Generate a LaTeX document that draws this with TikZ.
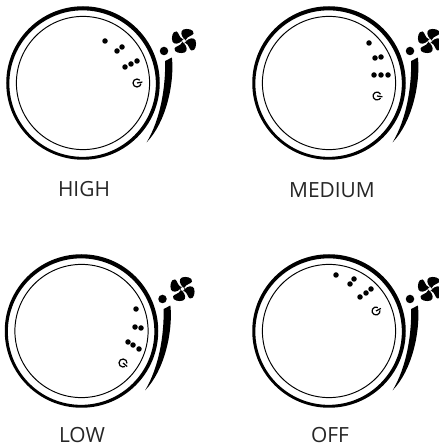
\documentclass[tikz,border=0pt]{standalone}
\usepackage{fontspec}
\setmainfont{Open Sans}
\tikzset{
	speed/.style={circle, fill=black, inner sep=0pt, minimum size=0.11cm},
	knob/.style={circle, fill=black, inner sep=0pt, minimum size=0.17cm},
	caption/.style={anchor=base, inner sep=0pt, font=\fontsize{11.9}{13}\selectfont, text=black!85},
	pics/powermark/.style={code={
		\draw[line width=0.7pt, rotate=#1] (35:0.08) arc (35:340:0.08);
		\draw[line width=0.7pt, rotate=#1] (0,0) -- (0.11,0);
	}},
	pics/fanblade/.style={code={
		\fill[rotate=#1] (0.006,0.04) .. controls (-0.06,0.1) and (-0.08,0.2) .. (-0.01,0.23) .. controls (0.06,0.26) and (0.21,0.23) .. (0.19,0.15) .. controls (0.17,0.1) and (0.07,0.1) .. (0.04,0.03) -- cycle;
	}},
	pics/dial/.style={code={
		\fill[even odd rule] (0,0) circle[radius=1.535] (-0.008,-0.012) circle[radius=1.465];
		\draw[line width=0.55pt] (0,0) circle[radius=1.332];
		\fill (16:1.85) .. controls (0:1.83) and (-25:1.84) .. (-43:1.74) .. controls (-25:1.71) and (-3:1.655) .. (15:1.70) -- cycle;
		\node[knob] (-knob) at (1.62,0.64) {};
		\foreach \a in {0,90,180,270} {
			\pic at (2.02,0.84) {fanblade=\a};
		}
		\node[circle, draw=black, fill=white, line width=0.3pt, inner sep=0pt, minimum size=0.09cm] (-hub) at (2.02,0.84) {};
	}}
}
\begin{document}
\begin{tikzpicture}
	\useasboundingbox (0,0) rectangle (8.78,8.94);
	\pic (H) at (1.66,7.28) {dial};
	\pic (M) at (6.58,7.28) {dial};
	\pic (L) at (1.63,2.32) {dial};
	\pic (O) at (6.58,2.32) {dial};
	% high
	\node[speed] (H1) at (2.10,8.12) {};
	\node[speed] (H2) at (2.34,7.92) {};
	\node[speed] (H3) at (2.44,8.00) {};
	\node[speed] (H4) at (2.50,7.60) {};
	\node[speed] (H5) at (2.62,7.66) {};
	\node[speed] (H6) at (2.74,7.72) {};
	\pic at (2.74,7.28) {powermark=10};
	\node[caption] (HT) at (1.68,5.00) {HIGH};
	% medium
	\node[speed] (M1) at (7.38,8.08) {};
	\node[speed] (M2) at (7.50,7.78) {};
	\node[speed] (M3) at (7.62,7.80) {};
	\node[speed] (M4) at (7.48,7.44) {};
	\node[speed] (M5) at (7.62,7.44) {};
	\node[speed] (M6) at (7.76,7.44) {};
	\pic at (7.54,7.02) {powermark=-8};
	\node[caption] (MT) at (6.64,4.98) {MEDIUM};
	% low
	\node[speed] (L1) at (2.72,2.76) {};
	\node[speed] (L2) at (2.70,2.40) {};
	\node[speed] (L3) at (2.82,2.38) {};
	\node[speed] (L4) at (2.56,2.10) {};
	\node[speed] (L5) at (2.66,2.04) {};
	\node[speed] (L6) at (2.78,1.96) {};
	\pic at (2.46,1.68) {powermark=-40};
	\node[caption] (LT) at (1.64,0.08) {LOW};
	% off
	\node[speed] (O1) at (6.72,3.44) {};
	\node[speed] (O2) at (7.00,3.26) {};
	\node[speed] (O3) at (7.08,3.36) {};
	\node[speed] (O4) at (7.20,3.00) {};
	\node[speed] (O5) at (7.32,3.08) {};
	\node[speed] (O6) at (7.42,3.16) {};
	\pic at (7.52,2.72) {powermark=28};
	\node[caption] (OT) at (6.60,0.08) {OFF};
\end{tikzpicture}
\end{document}
